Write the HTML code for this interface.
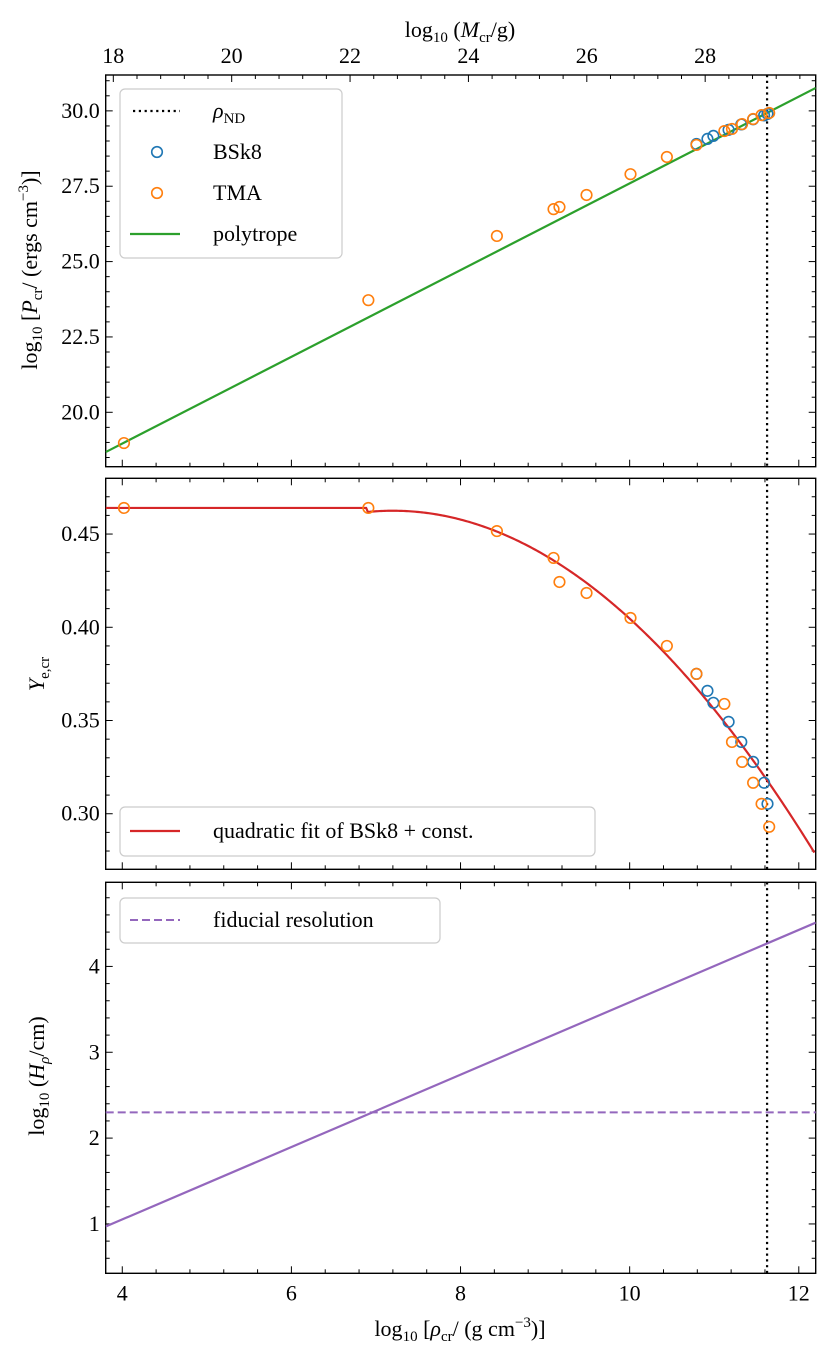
<!DOCTYPE html>
<html><head><meta charset="utf-8"><style>
html,body{margin:0;padding:0;background:#fff}
svg text{font-family:"Liberation Serif","DejaVu Serif",serif;fill:#000}
</style></head><body>
<svg id="fig" xmlns="http://www.w3.org/2000/svg" width="830" height="1362" viewBox="0 0 830 1362"></svg>
<script>
// ---- data ----
const tmaRho   = [4.02,6.91,8.43,9.10,9.17,9.49,10.01,10.44,10.79,11.12,11.21,11.33,11.46,11.56,11.65];
const tmaP     = [18.98,23.72,25.85,26.74,26.81,27.21,27.90,28.47,28.87,29.33,29.40,29.56,29.73,29.86,29.93];
const tmaYe    = [0.464,0.464,0.4516,0.4372,0.4243,0.4184,0.4050,0.3900,0.3750,0.3589,0.3385,0.3278,0.3166,0.3053,0.2930];
const bskRho   = [10.79,10.92,10.99,11.17,11.32,11.46,11.59,11.63];
const bskP     = [28.90,29.07,29.17,29.37,29.55,29.72,29.85,29.90];
const bskYe    = [0.375,0.3659,0.3595,0.3493,0.3385,0.3278,0.3166,0.3053];
const polyRho  = [3.804,12.20];
const polyP    = [18.68,30.76];
const fitConst = [0.464];
const fitParams= [0.4625,0.00738,7.2,6.9]; // peak, curvature, centre, break
const hRho     = [3.804,12.20];
const hVal     = [0.97,4.51];
const fiducial = [2.3];
const rhoND    = [11.625];
const xTicks   = [4,6,8,10,12];
const mTicks   = [18,20,22,24,26,28];
const pTicks   = [20.0,22.5,25.0,27.5,30.0];
const pTickLabels = ["20.0","22.5","25.0","27.5","30.0"];
const yeTicks  = [0.30,0.35,0.40,0.45];
const yeTickLabels = ["0.30","0.35","0.40","0.45"];
const hTicks   = [1,2,3,4];
const hTickLabels = ["1","2","3","4"];

const NS="http://www.w3.org/2000/svg";
const svg=document.getElementById('fig');
function mk(tag,attrs,parent){const e=document.createElementNS(NS,tag);for(const k in attrs)e.setAttribute(k,attrs[k]);(parent||svg).appendChild(e);return e;}

const X0=105.7,X1=815.7,XMIN=3.804,XMAX=12.20;
const sx=v=>X0+(v-XMIN)/(XMAX-XMIN)*(X1-X0);
// mass axis linear in rho: M=18 at rho 3.894, M=28 at rho 10.893
const mToRho=m=>3.894+(m-18)*(10.893-3.894)/10;

const panels=[
 {name:'pressure',top:75,bot:466.7,ymin:18.195,ymax:31.19,major:pTicks,labels:pTickLabels,minor:0.5,topM:true},
 {name:'ye',top:478.3,bot:869.3,ymin:0.2702,ymax:0.4799,major:yeTicks,labels:yeTickLabels,minor:0.01},
 {name:'scale-height',top:882.3,bot:1273.3,ymin:0.425,ymax:4.98,major:hTicks,labels:hTickLabels,minor:0.2,bottomLabels:true}
];
panels.forEach(p=>{p.sy=v=>p.bot-(v-p.ymin)/(p.ymax-p.ymin)*(p.bot-p.top);});

function axes(p){
  const g=mk('g',{});
  
  
  // x ticks bottom and top
  for(let v=4-0.4*1;v<=XMAX+1e-9;v+=0.4){
    if(v<XMIN)continue;
    const isMaj=Math.abs((v-4)/2-Math.round((v-4)/2))<1e-6;
    const L=isMaj?7:4,x=sx(v);
    mk('line',{x1:x,x2:x,y1:p.bot,y2:p.bot-L,stroke:'#000','stroke-width':1},g);
    if(!p.topM) mk('line',{x1:x,x2:x,y1:p.top,y2:p.top+L,stroke:'#000','stroke-width':1},g);
  }
  if(p.topM){
    for(let m=17.6;m<=30;m+=0.4){
      const r=mToRho(m); if(r<XMIN||r>XMAX)continue;
      const isMaj=Math.abs(m/2-Math.round(m/2))<1e-6;
      const x=sx(r);
      mk('line',{x1:x,x2:x,y1:p.top,y2:p.top+(isMaj?7:4),stroke:'#000','stroke-width':1},g);
    }
    mTicks.forEach(m=>{const t=mk('text',{x:sx(mToRho(m)),y:p.top-12,'font-size':22,'text-anchor':'middle'},g);t.textContent=m;
      });
  }
  // y ticks
  const start=Math.ceil(p.ymin/p.minor-1e-9);
  for(let k=start;k*p.minor<=p.ymax;k++){
    const v=k*p.minor,y=p.sy(v);
    const isMaj=p.major.some(m=>Math.abs(m-v)<1e-6);
    const L=isMaj?7:4;
    mk('line',{x1:X0,x2:X0+L,y1:y,y2:y,stroke:'#000','stroke-width':1},g);
    mk('line',{x1:X1,x2:X1-L,y1:y,y2:y,stroke:'#000','stroke-width':1},g);
  }
  p.major.forEach((v,i)=>{const t=mk('text',{x:X0-6,y:p.sy(v)+7,'font-size':22,'text-anchor':'end'},g);t.textContent=p.labels[i];
    });
  if(p.bottomLabels){
    xTicks.forEach(v=>{const t=mk('text',{x:sx(v),y:p.bot+27,'font-size':22,'text-anchor':'middle'},g);t.textContent=v;
      });
  }
  // vertical rho_ND
  const vl=mk('line',{x1:sx(rhoND[0]),x2:sx(rhoND[0]),y1:p.top,y2:p.bot,stroke:'#000','stroke-width':2.2,'stroke-dasharray':'2.2,3.6'},g);
  
  const fr=mk('rect',{x:X0,y:p.top,width:X1-X0,height:p.bot-p.top,fill:'none',stroke:'#000','stroke-width':1.4},g);
  
}
panels.forEach(axes);

function clip(p,id){const c=mk('clipPath',{id:id});mk('rect',{x:X0,y:p.top,width:X1-X0,height:p.bot-p.top},c);return 'url(#'+id+')';}
function circles(p,xs,ys,color,name){
  xs.forEach((x,i)=>{const c=mk('circle',{cx:sx(x),cy:p.sy(ys[i]),r:5.3,fill:'none',stroke:color,'stroke-width':1.6});
    });
}
// panel 1
const P1=panels[0],P2=panels[1],P3=panels[2];
let l=mk('polyline',{points:polyRho.map((r,i)=>sx(r)+','+P1.sy(polyP[i])).join(' '),fill:'none',stroke:'#2ca02c','stroke-width':2.2,'clip-path':clip(P1,'c1')});

circles(P1,bskRho,bskP,'#1f77b4','bsk8-point');
circles(P1,tmaRho,tmaP,'#ff7f0e','tma-point');
// panel 2 fit curve
const pts=[];
for(let r=XMIN;r<=XMAX+1e-9;r+=0.02){
  const q=fitParams[0]-fitParams[1]*(r-fitParams[2])*(r-fitParams[2]);
  const v=r<fitParams[3]?fitConst[0]:q;
  pts.push(sx(r)+','+P2.sy(v));
}
l=mk('polyline',{points:pts.join(' '),fill:'none',stroke:'#d62728','stroke-width':2.2,'clip-path':clip(P2,'c2')});

circles(P2,bskRho,bskYe,'#1f77b4','bsk8-point');
circles(P2,tmaRho,tmaYe,'#ff7f0e','tma-point');
// panel 3
l=mk('polyline',{points:hRho.map((r,i)=>sx(r)+','+P3.sy(hVal[i])).join(' '),fill:'none',stroke:'#9467bd','stroke-width':2.2,'clip-path':clip(P3,'c3')});

l=mk('line',{x1:X0,x2:X1,y1:P3.sy(fiducial[0]),y2:P3.sy(fiducial[0]),stroke:'#9467bd','stroke-width':2,'stroke-dasharray':'8,4'});

</script>
<svg style="position:absolute;left:0;top:0" width="830" height="1362">
 <g>
  <rect x="120" y="89" width="222" height="169" rx="5" fill="#fff" fill-opacity="0.85" stroke="#ccc" stroke-width="1.2"/>
  <line x1="133" y1="111" x2="180" y2="111" stroke="#000" stroke-width="2.2" stroke-dasharray="2.2,3.6"/>
  <text x="213" y="118" font-size="22"><tspan font-style="italic">ρ</tspan><tspan font-size="15" dy="5">ND</tspan></text>
  <circle cx="157" cy="152" r="5.3" fill="none" stroke="#1f77b4" stroke-width="1.6"/>
  <text x="213" y="159" font-size="22">BSk8</text>
  <circle cx="157" cy="193" r="5.3" fill="none" stroke="#ff7f0e" stroke-width="1.6"/>
  <text x="213" y="200" font-size="22">TMA</text>
  <line x1="130" y1="234" x2="180" y2="234" stroke="#2ca02c" stroke-width="2.2"/>
  <text x="213" y="241" font-size="22">polytrope</text>
 </g>
 <g>
  <rect x="120" y="807" width="475" height="49" rx="5" fill="#fff" fill-opacity="0.85" stroke="#ccc" stroke-width="1.2"/>
  <line x1="130" y1="831" x2="180" y2="831" stroke="#d62728" stroke-width="2.2"/>
  <text x="213" y="838" font-size="22">quadratic fit of BSk8 + const.</text>
 </g>
 <g>
  <rect x="120" y="898" width="320" height="45" rx="5" fill="#fff" fill-opacity="0.85" stroke="#ccc" stroke-width="1.2"/>
  <line x1="130" y1="920" x2="180" y2="920" stroke="#9467bd" stroke-width="2" stroke-dasharray="8,4"/>
  <text x="213" y="927" font-size="22">fiducial resolution</text>
 </g>
 <text x="460" y="37" font-size="22" text-anchor="middle">log<tspan font-size="15" dy="5">10</tspan><tspan dy="-5"> (</tspan><tspan font-style="italic">M</tspan><tspan font-size="15" dy="5">cr</tspan><tspan dy="-5">/g)</tspan></text>
 <text x="460" y="1336" font-size="22" text-anchor="middle">log<tspan font-size="15" dy="5">10</tspan><tspan dy="-5"> [</tspan><tspan font-style="italic">ρ</tspan><tspan font-size="15" dy="5">cr</tspan><tspan dy="-5">/ (g cm</tspan><tspan font-size="15" dy="-9">−3</tspan><tspan dy="9">)]</tspan></text>
 <text transform="translate(37,270) rotate(-90)" font-size="22" text-anchor="middle">log<tspan font-size="15" dy="5">10</tspan><tspan dy="-5"> [</tspan><tspan font-style="italic">P</tspan><tspan font-size="15" dy="5">cr</tspan><tspan dy="-5">/ (ergs cm</tspan><tspan font-size="15" dy="-9">−3</tspan><tspan dy="9">)]</tspan></text>
 <text transform="translate(44,674) rotate(-90)" font-size="22" text-anchor="middle"><tspan font-style="italic">Y</tspan><tspan font-size="15" dy="5">e,cr</tspan></text>
 <text transform="translate(44,1076) rotate(-90)" font-size="22" text-anchor="middle">log<tspan font-size="15" dy="5">10</tspan><tspan dy="-5"> (</tspan><tspan font-style="italic">H</tspan><tspan font-size="15" dy="5" font-style="italic">ρ</tspan><tspan dy="-5">/cm)</tspan></text>
</svg>
</body></html>
